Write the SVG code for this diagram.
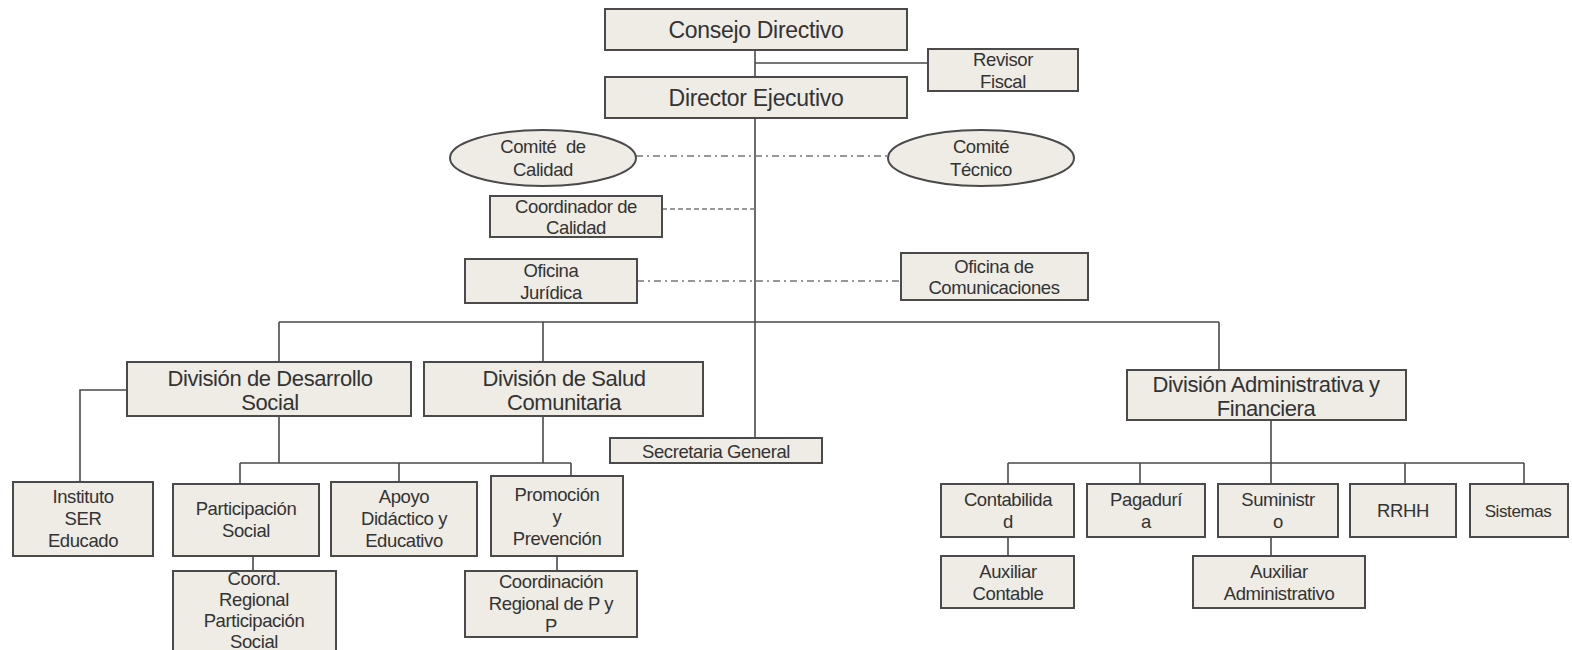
<svg xmlns="http://www.w3.org/2000/svg" width="1572" height="650" viewBox="0 0 1572 650">
  <style>
    .box { fill: #eeece4; stroke: #4a4a4a; stroke-width: 2; }
    .t { font-family: "Liberation Sans", Arial, sans-serif; fill: #333; text-anchor: middle; }
    .big { font-size: 23px; letter-spacing: -0.3px; }
    .mid { font-size: 22px; letter-spacing: -0.4px; }
    .sm { font-size: 18.5px; letter-spacing: -0.4px; }
    .line { fill: none; stroke: #4a4a4a; stroke-width: 1.6; }
    .dashdot { fill: none; stroke: #777; stroke-width: 1.6; stroke-dasharray: 7 4 2 4; }
    .dash { fill: none; stroke: #777; stroke-width: 1.6; stroke-dasharray: 5 3; }
  </style>
  <rect width="1572" height="650" fill="#ffffff"/>

  <g id="connectors">
    <path class="line" d="M755 50 V77 M755 63 H928 M755 118 V438"/>
    <path class="dashdot" d="M636 156 H888"/>
    <path class="dash" d="M662 209 H755"/>
    <path class="dashdot" d="M637 281 H901"/>
    <path class="line" d="M279 322 H1219 M279 322 V362 M543 322 V362 M1219 322 V370"/>
    <path class="line" d="M127 390 H80 V482"/>
    <path class="line" d="M279 416 V463 M543 416 V463 M240 463 H571 M240 463 V484 M399 463 V482 M571 463 V476"/>
    <path class="line" d="M253 556 V571 M557 556 V571"/>
    <path class="line" d="M1271 420 V463 M1008 463 H1524 M1008 463 V484 M1140 463 V484 M1271 463 V484 M1405 463 V484 M1524 463 V484"/>
    <path class="line" d="M1008 537 V556 M1271 537 V556"/>
  </g>

  <g id="consejo">
    <rect class="box" x="605" y="9" width="302" height="41"/>
    <text class="t big" x="756" y="38">Consejo Directivo</text>
  </g>
  <g id="revisor">
    <rect class="box" x="928" y="49" width="150" height="42"/>
    <text class="t sm" x="1003" y="66">Revisor</text>
    <text class="t sm" x="1003" y="88">Fiscal</text>
  </g>
  <g id="director">
    <rect class="box" x="605" y="77" width="302" height="41"/>
    <text class="t big" x="756" y="106">Director Ejecutivo</text>
  </g>
  <g id="comite-calidad">
    <ellipse class="box" cx="543" cy="158" rx="93" ry="28"/>
    <text class="t sm" x="543" y="153" style="white-space:pre">Comité  de</text>
    <text class="t sm" x="543" y="176">Calidad</text>
  </g>
  <g id="comite-tecnico">
    <ellipse class="box" cx="981" cy="158" rx="93" ry="28"/>
    <text class="t sm" x="981" y="153">Comité</text>
    <text class="t sm" x="981" y="176">Técnico</text>
  </g>
  <g id="coordinador-calidad">
    <rect class="box" x="490" y="196" width="172" height="41"/>
    <text class="t sm" x="576" y="213">Coordinador de</text>
    <text class="t sm" x="576" y="234">Calidad</text>
  </g>
  <g id="oficina-juridica">
    <rect class="box" x="465" y="259" width="172" height="44"/>
    <text class="t sm" x="551" y="277">Oficina</text>
    <text class="t sm" x="551" y="299">Jurídica</text>
  </g>
  <g id="oficina-comunicaciones">
    <rect class="box" x="901" y="253" width="187" height="47"/>
    <text class="t sm" x="994" y="273">Oficina de</text>
    <text class="t sm" x="994" y="294">Comunicaciones</text>
  </g>

  <g id="div-desarrollo">
    <rect class="box" x="127" y="362" width="284" height="54"/>
    <text class="t mid" x="270" y="386">División de Desarrollo</text>
    <text class="t mid" x="270" y="410">Social</text>
  </g>
  <g id="div-salud">
    <rect class="box" x="424" y="362" width="279" height="54"/>
    <text class="t mid" x="564" y="386">División de Salud</text>
    <text class="t mid" x="564" y="410">Comunitaria</text>
  </g>
  <g id="secretaria">
    <rect class="box" x="610" y="438" width="212" height="25"/>
    <text class="t sm" x="716" y="458">Secretaria General</text>
  </g>
  <g id="div-administrativa">
    <rect class="box" x="1127" y="370" width="279" height="50"/>
    <text class="t mid" x="1266" y="392">División Administrativa y</text>
    <text class="t mid" x="1266" y="416">Financiera</text>
  </g>

  <g id="instituto">
    <rect class="box" x="13" y="482" width="140" height="74"/>
    <text class="t sm" x="83" y="503">Instituto</text>
    <text class="t sm" x="83" y="525">SER</text>
    <text class="t sm" x="83" y="547">Educado</text>
  </g>
  <g id="participacion">
    <rect class="box" x="173" y="484" width="146" height="72"/>
    <text class="t sm" x="246" y="515">Participación</text>
    <text class="t sm" x="246" y="537">Social</text>
  </g>
  <g id="apoyo">
    <rect class="box" x="331" y="482" width="146" height="74"/>
    <text class="t sm" x="404" y="503">Apoyo</text>
    <text class="t sm" x="404" y="525">Didáctico y</text>
    <text class="t sm" x="404" y="547">Educativo</text>
  </g>
  <g id="promocion">
    <rect class="box" x="491" y="476" width="132" height="80"/>
    <text class="t sm" x="557" y="501">Promoción</text>
    <text class="t sm" x="557" y="523">y</text>
    <text class="t sm" x="557" y="545">Prevención</text>
  </g>
  <g id="coord-regional-ps">
    <rect class="box" x="173" y="571" width="163" height="82"/>
    <text class="t sm" x="254" y="585">Coord.</text>
    <text class="t sm" x="254" y="606">Regional</text>
    <text class="t sm" x="254" y="627">Participación</text>
    <text class="t sm" x="254" y="648">Social</text>
  </g>
  <g id="coord-regional-pyp">
    <rect class="box" x="465" y="571" width="172" height="66"/>
    <text class="t sm" x="551" y="588">Coordinación</text>
    <text class="t sm" x="551" y="610">Regional de P y</text>
    <text class="t sm" x="551" y="632">P</text>
  </g>

  <g id="contabilidad">
    <rect class="box" x="941" y="484" width="133" height="53"/>
    <text class="t sm" x="1008" y="506">Contabilida</text>
    <text class="t sm" x="1008" y="528">d</text>
  </g>
  <g id="pagaduria">
    <rect class="box" x="1087" y="484" width="118" height="53"/>
    <text class="t sm" x="1146" y="506">Pagadurí</text>
    <text class="t sm" x="1146" y="528">a</text>
  </g>
  <g id="suministro">
    <rect class="box" x="1218" y="484" width="120" height="53"/>
    <text class="t sm" x="1278" y="506">Suministr</text>
    <text class="t sm" x="1278" y="528">o</text>
  </g>
  <g id="rrhh">
    <rect class="box" x="1350" y="484" width="106" height="53"/>
    <text class="t sm" x="1403" y="517">RRHH</text>
  </g>
  <g id="sistemas">
    <rect class="box" x="1470" y="484" width="98" height="53"/>
    <text class="t sm" x="1518" y="517" style="font-size:17px">Sistemas</text>
  </g>
  <g id="auxiliar-contable">
    <rect class="box" x="941" y="556" width="133" height="52"/>
    <text class="t sm" x="1008" y="578">Auxiliar</text>
    <text class="t sm" x="1008" y="600">Contable</text>
  </g>
  <g id="auxiliar-administrativo">
    <rect class="box" x="1193" y="556" width="172" height="52"/>
    <text class="t sm" x="1279" y="578">Auxiliar</text>
    <text class="t sm" x="1279" y="600">Administrativo</text>
  </g>
</svg>
